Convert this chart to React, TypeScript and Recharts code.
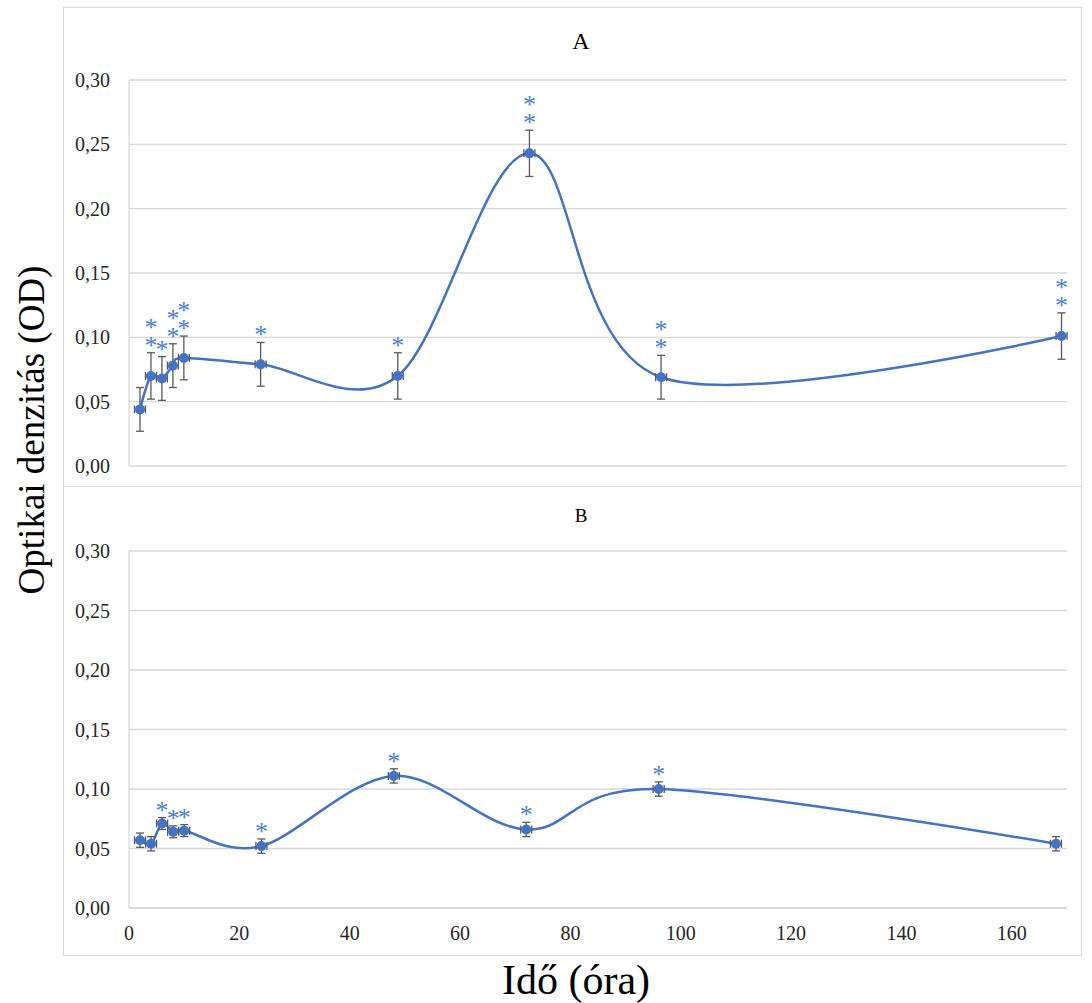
import React from "react";
import {
  ComposedChart,
  Line,
  Scatter,
  XAxis,
  YAxis,
  CartesianGrid,
  ErrorBar,
} from "recharts";

// panel A
const hoursA = [2, 4, 6, 8, 10, 24, 49, 73, 97, 170];
const odA = [0.044, 0.07, 0.068, 0.078, 0.084, 0.079, 0.07, 0.243, 0.069, 0.101];
const sdA = [0.017, 0.018, 0.017, 0.017, 0.017, 0.017, 0.018, 0.018, 0.017, 0.018];
const starsA = [0, 2, 1, 2, 2, 1, 1, 2, 2, 2];

// panel B
const hoursB = [2, 4, 6, 8, 10, 24, 48, 72, 96, 168];
const odB = [0.057, 0.054, 0.071, 0.064, 0.065, 0.052, 0.111, 0.066, 0.1, 0.054];
const sdB = [0.006, 0.006, 0.005, 0.005, 0.005, 0.006, 0.006, 0.006, 0.006, 0.006];
const starsB = [0, 0, 1, 1, 1, 1, 1, 1, 1, 0];

const yTicks = [0, 0.05, 0.1, 0.15, 0.2, 0.25, 0.3];
const xTicks = [0, 20, 40, 60, 80, 100, 120, 140, 160];
const TIME_ERR = 1;

const BLUE = "#4472c4";
const STAR = "#4a7fd6";
const INK = "#262626";
const GRID = "#d9d9d9";
const SERIF = '"Liberation Serif", "Times New Roman", serif';

const buildRows = (hours: number[], od: number[], sd: number[], stars: number[]) =>
  hours.map((x, i) => ({
    x,
    y: od[i],
    yErr: sd[i],
    xErr: TIME_ERR,
    top: od[i] + sd[i],
    stars: stars[i],
  }));

const rowsA = buildRows(hoursA, odA, sdA, starsA);
const rowsB = buildRows(hoursB, odB, sdB, starsB);

const fmt = (v: number) => v.toFixed(2).replace(".", ",");

// Excel-like smoothed line: cardinal spline, zero tension
function smoothCurve(context: any) {
  const k = 1 / 6;
  let x0 = NaN, y0 = NaN, x1 = NaN, y1 = NaN, x2 = NaN, y2 = NaN;
  let n = 0;
  const seg = (x: number, y: number) =>
    context.bezierCurveTo(
      x1 + k * (x2 - x0),
      y1 + k * (y2 - y0),
      x2 + k * (x1 - x),
      y2 + k * (y1 - y),
      x2,
      y2
    );
  return {
    areaStart() {},
    areaEnd() {},
    lineStart() {
      x0 = x1 = x2 = y0 = y1 = y2 = NaN;
      n = 0;
    },
    lineEnd() {
      if (n === 2) context.lineTo(x2, y2);
      else if (n === 3) seg(x1, y1);
    },
    point(x: number, y: number) {
      x = +x;
      y = +y;
      if (n === 0) {
        n = 1;
        context.moveTo(x, y);
      } else if (n === 1) {
        n = 2;
        x1 = x;
        y1 = y;
      } else {
        n = 3;
        seg(x, y);
      }
      x0 = x1; x1 = x2; x2 = x;
      y0 = y1; y1 = y2; y2 = y;
    },
  };
}

const Marker = (p: any) => <circle cx={p.cx} cy={p.cy} r={5} fill={BLUE} />;

const YTick = (p: any) => (
  <text x={p.x} y={p.y} dy="0.35em" textAnchor="end" fontSize={20} fontFamily={SERIF} fill={INK}>
    {fmt(p.payload.value)}
  </text>
);

const XTick = (p: any) => (
  <text x={p.x} y={p.y} dy="0.71em" textAnchor="middle" fontSize={20} fontFamily={SERIF} fill={INK}>
    {p.payload.value}
  </text>
);

// significance asterisks stacked above the error bar
const StarMark = (p: any) => {
  const n = p.payload?.stars ?? 0;
  if (!n) return <g />;
  return (
    <g>
      {Array.from({ length: n }, (_, i) => (
        <text
          key={i}
          x={p.cx}
          y={p.cy + 1 - i * 18}
          textAnchor="middle"
          fontSize={26}
          fontFamily={SERIF}
          fill={STAR}
        >
          *
        </text>
      ))}
    </g>
  );
};

function Panel({ rows, height, margin, showTime }: any) {
  return (
    <ComposedChart width={1018} height={height} data={rows} margin={margin}>
      <CartesianGrid vertical={false} stroke={GRID} strokeWidth={1.3} />
      <XAxis
        dataKey="x"
        type="number"
        domain={[0, 170]}
        ticks={xTicks}
        interval={0}
        hide={!showTime}
        height={40}
        axisLine={{ stroke: GRID, strokeWidth: 1.3 }}
        tickLine={false}
        tickSize={0}
        tickMargin={18}
        tick={XTick}
      />
      <YAxis
        type="number"
        domain={[0, 0.3]}
        ticks={yTicks}
        interval={0}
        width={60}
        axisLine={{ stroke: GRID, strokeWidth: 1.3 }}
        tickLine={false}
        tickSize={0}
        tickMargin={19}
        tick={YTick}
      />
      <Line
        type={smoothCurve as any}
        dataKey="y"
        stroke={BLUE}
        strokeWidth={2.5}
        dot={false}
        activeDot={false}
        isAnimationActive={false}
      />
      <Scatter dataKey="y" shape={Marker} isAnimationActive={false}>
        <ErrorBar dataKey="yErr" direction="y" width={4} stroke="#595959" strokeWidth={1.3} isAnimationActive={false} />
        <ErrorBar dataKey="xErr" direction="x" width={4} stroke="#595959" strokeWidth={1.3} isAnimationActive={false} />
      </Scatter>
      <Scatter dataKey="top" shape={StarMark} isAnimationActive={false} />
    </ComposedChart>
  );
}

export default function App() {
  return (
    <div
      style={{
        position: "absolute",
        left: 0,
        top: 0,
        width: 1092,
        height: 1003,
        background: "#fff",
        overflow: "hidden",
        fontFamily: SERIF,
      }}
    >
      <div style={{ position: "absolute", left: 63, top: 7, width: 1019, height: 480, border: `1px solid ${GRID}`, boxSizing: "border-box" }} />
      <div style={{ position: "absolute", left: 63, top: 486, width: 1019, height: 470, border: `1px solid ${GRID}`, boxSizing: "border-box" }} />

      <div style={{ position: "absolute", left: 63, top: 7 }}>
        <Panel rows={rowsA} height={479} margin={{ top: 73, right: 14, bottom: 20, left: 6 }} showTime={false} />
      </div>
      <div style={{ position: "absolute", left: 63, top: 486 }}>
        <Panel rows={rowsB} height={469} margin={{ top: 65, right: 14, bottom: 7, left: 6 }} showTime />
      </div>

      <svg width={1092} height={1003} style={{ position: "absolute", left: 0, top: 0, pointerEvents: "none" }}>
        <text x={581} y={49} textAnchor="middle" fontSize={24} fontFamily={SERIF} fill="#000">
          A
        </text>
        <text x={581} y={522} textAnchor="middle" fontSize={19} fontFamily={SERIF} fill="#000">
          B
        </text>
        <text
          transform="translate(44, 430) rotate(-90)"
          textAnchor="middle"
          fontSize={37}
          fontFamily={SERIF}
          fill="#000"
        >
          Optikai denzitás (OD)
        </text>
        <text x={576} y={994} textAnchor="middle" fontSize={42} fontFamily={SERIF} fill="#000">
          Idő (óra)
        </text>
      </svg>
    </div>
  );
}
